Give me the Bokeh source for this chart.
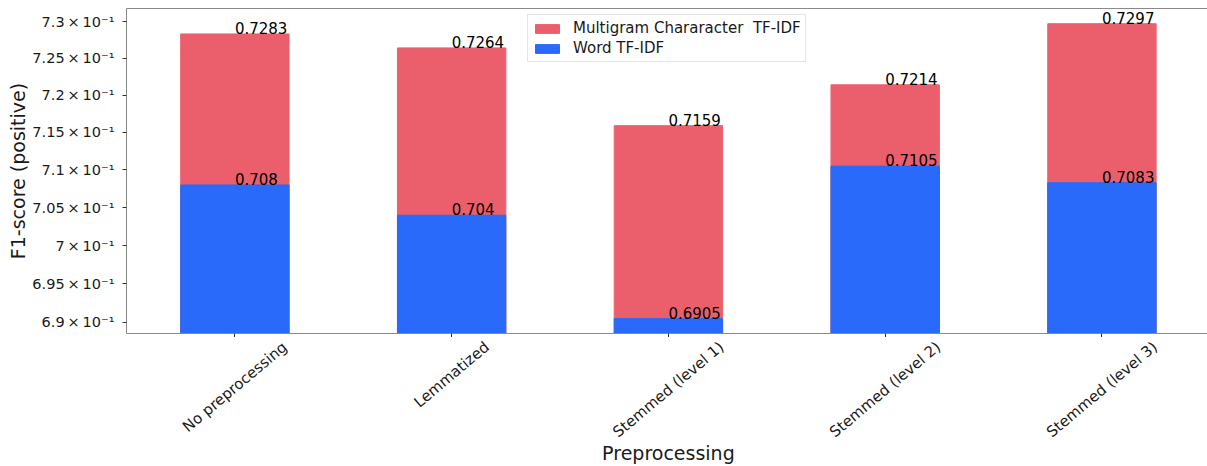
import math
from bokeh.plotting import figure
from bokeh.layouts import column
from bokeh.models import Range1d, FixedTicker, ColumnDataSource, LinearAxis
from bokeh.core.properties import value
from bokeh.embed import file_html
from bokeh.resources import INLINE

# ---- data ----
categories = ["No preprocessing", "Lemmatized", "Stemmed (level 1)",
              "Stemmed (level 2)", "Stemmed (level 3)"]
char_tfidf = [0.7283, 0.7264, 0.7159, 0.7214, 0.7297]
word_tfidf = [0.708, 0.704, 0.6905, 0.7105, 0.7083]
y_tick_values = [0.69, 0.695, 0.70, 0.705, 0.71, 0.715, 0.72, 0.725, 0.73]
y_tick_labels = ["6.9\u2009×\u200910⁻¹", "6.95\u2009×\u200910⁻¹", "7\u2009×\u200910⁻¹",
                 "7.05\u2009×\u200910⁻¹", "7.1\u2009×\u200910⁻¹", "7.15\u2009×\u200910⁻¹",
                 "7.2\u2009×\u200910⁻¹", "7.25\u2009×\u200910⁻¹", "7.3\u2009×\u200910⁻¹"]
char_label = "Multigram Chararacter  TF-IDF"
word_label = "Word TF-IDF"
x_title = "Preprocessing"
y_title = "F1-score (positive)"

RED = "#eb5f6c"
BLUE = "#296afa"
FONT = "DejaVu Sans"
SPINE = "#8a8a8a"
TXT = "#1a1a1a"

xs = list(range(len(categories)))
y_lo, y_hi = 0.68858, 0.73178
xr = Range1d(-0.5, 4.487)

TOP_H = 337
p = figure(width=1207, height=TOP_H, output_backend="svg", toolbar_location=None,
           x_range=xr, y_range=Range1d(y_lo, y_hi), y_axis_type="log",
           min_border_left=126, min_border_right=0, min_border_top=8,
           min_border_bottom=0)
p.grid.visible = False
p.outline_line_color = None

src = ColumnDataSource(dict(x=xs, char=char_tfidf, word=word_tfidf,
                            char_txt=[str(v) for v in char_tfidf],
                            word_txt=[str(v) for v in word_tfidf]))

p.vbar(x="x", top="char", bottom=0.5, width=0.5, source=src, color=RED,
       legend_label=char_label)
p.vbar(x="x", top="word", bottom=0.5, width=0.5, source=src, color=BLUE,
       legend_label=word_label)

for col, txt in (("char", "char_txt"), ("word", "word_txt")):
    p.text(x="x", y=col, text=txt, source=src, text_align="left",
           text_baseline="bottom", text_font=value(FONT),
           text_font_size="15px", text_color="#000000")

xa = p.below[0]
ya = p.left[0]

# top spine
top = LinearAxis(ticker=FixedTicker(ticks=[], minor_ticks=[]),
                 major_label_text_font_size="0px", major_tick_out=0,
                 major_tick_in=0, axis_line_color=SPINE)
p.add_layout(top, "above")

# y axis
ya.ticker = FixedTicker(ticks=y_tick_values, minor_ticks=[])
ya.major_label_overrides = {v: s for v, s in zip(y_tick_values, y_tick_labels)}
ya.major_label_text_font = FONT
ya.major_label_text_font_size = "14.5px"
ya.major_label_text_color = TXT
ya.major_tick_out = 4
ya.major_tick_in = 0
ya.major_label_standoff = 8
ya.axis_line_color = SPINE
ya.major_tick_line_color = "#333333"
ya.axis_label = y_title
ya.axis_label_text_font = FONT
ya.axis_label_text_font_size = "19px"
ya.axis_label_text_font_style = "normal"
ya.axis_label_text_color = TXT
ya.axis_label_standoff = 0

# x axis (ticks only; labels drawn in the strip below)
xa.ticker = FixedTicker(ticks=xs, minor_ticks=[])
xa.major_label_overrides = {i: "" for i in xs}
xa.major_label_text_font_size = "0px"
xa.major_label_standoff = 0
xa.major_tick_out = 4
xa.major_tick_in = 0
xa.axis_line_color = SPINE
xa.major_tick_line_color = "#333333"

# legend
lg = p.legend[0]
lg.location = (401, 271)
lg.label_text_font = FONT
lg.label_text_font_size = "15px"
lg.label_text_color = TXT
lg.glyph_width = 30
lg.glyph_height = 11
lg.label_height = 17
lg.label_standoff = 11
lg.spacing = 2
lg.padding = 4
lg.margin = 0
lg.border_line_color = "#cccccc"
lg.background_fill_alpha = 0.8

# ---- strip below: rotated category labels + x title ----
BOT_H = 466 - TOP_H
q = figure(width=1207, height=BOT_H, output_backend="svg", toolbar_location=None,
           x_range=xr, y_range=Range1d(-BOT_H, 0),
           x_axis_location=None, y_axis_location=None,
           min_border_left=126, min_border_right=0, min_border_top=0,
           min_border_bottom=0)
q.grid.visible = False
q.outline_line_color = None

CW = {"N": .748, "o": .612, " ": .318, "p": .635, "r": .411, "e": .615, "c": .550,
      "s": .521, "i": .278, "n": .634, "g": .635, "L": .557, "m": .974, "a": .613,
      "t": .392, "z": .525, "d": .635, "S": .635, "(": .390, ")": .390, "l": .278,
      "v": .592, "1": .636, "2": .636, "3": .636}
fs = 15.0
ang = math.radians(40)
pad = 333 + 5 - TOP_H
ys = []
for c in categories:
    w = sum(CW.get(ch, 0.6) for ch in c) * fs
    h = 16.5
    ys.append(-(pad + (w * math.sin(ang) + h * math.cos(ang)) / 2))
lab = ColumnDataSource(dict(x=xs, y=ys, text=categories))
q.text(x="x", y="y", text="text", source=lab, angle=40, angle_units="deg",
       text_align="center", text_baseline="middle", text_font=value(FONT),
       text_font_size="15px", text_color=TXT)
q.text(x=[sum(xs) / len(xs)], y=[-(452 - TOP_H)], text=[x_title],
       text_align="center", text_baseline="alphabetic", text_font=value(FONT),
       text_font_size="19px", text_color=TXT)

open("out.html", "w").write(file_html(column(p, q, spacing=0), INLINE))
